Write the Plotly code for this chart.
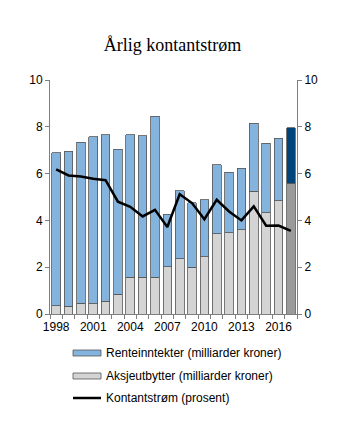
import plotly.graph_objects as go

years = list(range(1998, 2018))
aksjeutbytter = [0.35, 0.33, 0.47, 0.43, 0.55, 0.85, 1.57, 1.57, 1.57, 2.03,
                 2.37, 2.00, 2.45, 3.43, 3.47, 3.60, 5.25, 4.32, 4.83, 5.58]
totals = [6.90, 6.95, 7.35, 7.57, 7.67, 7.05, 7.67, 7.62, 8.45, 4.27,
          5.27, 4.75, 4.88, 6.38, 6.05, 6.23, 8.15, 7.30, 7.52, 7.97]
renteinntekter = [round(t - a, 2) for t, a in zip(totals, aksjeutbytter)]
kontantstrom = [6.18, 5.92, 5.88, 5.78, 5.72, 4.80, 4.58, 4.17, 4.45, 3.72,
                5.12, 4.74, 4.05, 4.88, 4.38, 4.00, 4.60, 3.77, 3.78, 3.55]
xtick_labels = [1998, 2001, 2004, 2007, 2010, 2013, 2016]
legend_labels = ["Renteinntekter (milliarder kroner)",
                 "Aksjeutbytter (milliarder kroner)",
                 "Kontantstrøm (prosent)"]

blue, dblue = "#84b4dd", "#00447c"
grey, dgrey = "#d4d4d4", "#9b9b9b"
outline = "#555555"

gray_cols = [grey] * (len(years) - 1) + [dgrey]
blue_cols = [blue] * (len(years) - 1) + [dblue]

fig = go.Figure()
fig.add_trace(go.Bar(x=years, y=aksjeutbytter, marker=dict(color=gray_cols, line=dict(color=outline, width=0.8)),
                     width=0.7, name=legend_labels[1], showlegend=False))
fig.add_trace(go.Bar(x=years, y=renteinntekter, marker=dict(color=blue_cols, line=dict(color=outline, width=0.8)),
                     width=0.7, name=legend_labels[0], showlegend=False))
fig.add_trace(go.Scatter(x=years, y=kontantstrom, mode="lines", line=dict(color="black", width=2.5),
                         name=legend_labels[2], showlegend=False))
# invisible trace to activate right axis
fig.add_trace(go.Scatter(x=[years[0]], y=[0], yaxis="y2", mode="markers", marker=dict(opacity=0),
                         showlegend=False, hoverinfo="skip"))

axis_col = "#7f7f7f"
fam = "Liberation Sans, Arial, sans-serif"
font = dict(family=fam, size=12, color="black")

fig.update_layout(
    width=345, height=425,
    margin=dict(l=50, r=48, t=80, b=111),
    barmode="stack",
    plot_bgcolor="white", paper_bgcolor="white",
    font=font,
    title=dict(text="Årlig kontantstrøm", x=0.5, xanchor="center", y=0.895, yanchor="middle",
               font=dict(family="Liberation Serif, Times New Roman, serif", size=18, color="black")),
    xaxis=dict(range=[1997.5, 2017.5], tickvals=xtick_labels, ticktext=[str(v) for v in xtick_labels],
               ticks="", showline=True, linecolor=axis_col, linewidth=1, showgrid=False, zeroline=False,
               minor=dict(ticks="outside", tick0=1997.5, dtick=1, ticklen=4, tickcolor=axis_col, showgrid=False),
               ticklabelstandoff=2),
    yaxis=dict(range=[0, 10], dtick=2, ticks="outside", ticklen=4, tickcolor=axis_col, showline=True,
               linecolor=axis_col, linewidth=1, showgrid=False, zeroline=False),
    yaxis2=dict(range=[0, 10], dtick=2, overlaying="y", side="right", ticks="outside", ticklen=4,
                tickcolor=axis_col, showline=True, linecolor=axis_col, linewidth=1, showgrid=False,
                zeroline=False),
)


def py(pix):
    return (314 - pix) / 234


def px(pix):
    return (pix - 50) / 247


# manual legend
rows_y = [353, 376, 398]
for lab, y in zip(legend_labels, rows_y):
    fig.add_annotation(text=lab, xref="paper", yref="paper", x=px(104), y=py(y),
                       xanchor="left", yanchor="middle", showarrow=False,
                       font=dict(family=fam, size=12, color="black"))

fig.add_shape(type="rect", xref="paper", yref="paper", x0=px(73), x1=px(101), y0=py(356), y1=py(350),
              fillcolor=blue, line=dict(color=outline, width=0.8))
fig.add_shape(type="rect", xref="paper", yref="paper", x0=px(73), x1=px(101), y0=py(379), y1=py(373),
              fillcolor=grey, line=dict(color=outline, width=0.8))
fig.add_shape(type="line", xref="paper", yref="paper", x0=px(73), x1=px(101), y0=py(398), y1=py(398),
              line=dict(color="black", width=2.5))

fig.write_html("out.html")
